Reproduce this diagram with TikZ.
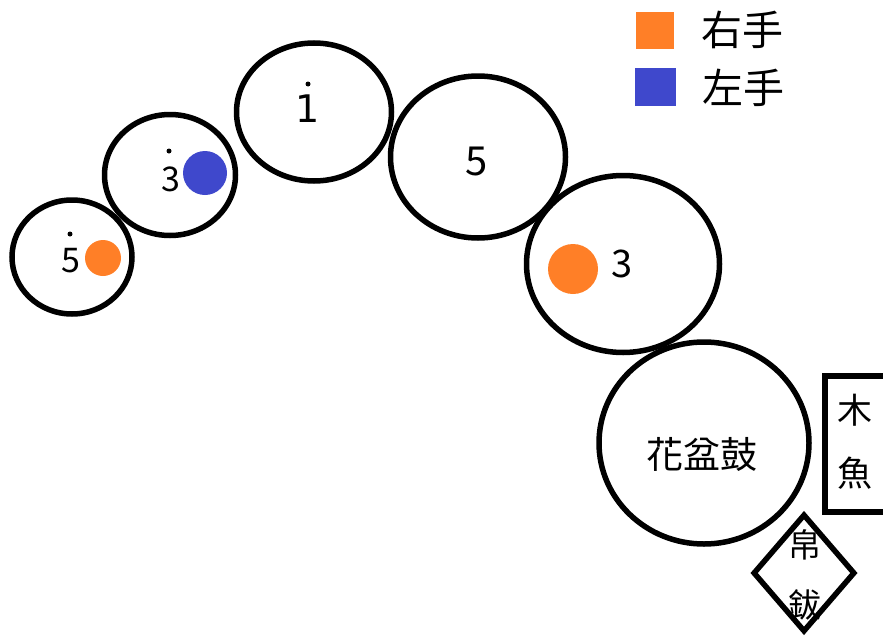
\documentclass[tikz,border=0pt]{standalone}
\usepackage{fontspec}
\setmainfont{Noto Sans CJK TC}
\newfontfamily\digitfont{DejaVu Sans}
\usetikzlibrary{shapes.geometric}
\definecolor{porange}{HTML}{FF7F27}
\definecolor{pblue}{HTML}{3F48CC}
\tikzset{
  drum/.style={draw=black, line width=5.5pt, ellipse, inner sep=0pt},
  hand/.style={circle, inner sep=0pt, draw=none},
  octdot/.style={circle, fill=black, inner sep=0pt, minimum size=5pt},
  lbl/.style={inner sep=0pt, text=black},
  sq/.style={inner sep=0pt, draw=none}
}
\newcommand{\fs}[1]{\fontsize{#1}{#1}\selectfont}
\begin{document}
\begin{tikzpicture}[x=1pt,y=-1pt]
\useasboundingbox (0,0) rectangle (883,637);
% drums
\node[drum, minimum width=120pt, minimum height=114pt] (c1) at (72,257) {};
\node[drum, minimum width=131pt, minimum height=121pt] (c2) at (170,175) {};
\node[drum, minimum width=155pt, minimum height=138pt] (c3) at (314,112) {};
\node[drum, minimum width=175pt, minimum height=162pt] (c4) at (478,157) {};
\node[drum, minimum width=193pt, minimum height=177pt] (c5) at (623,264) {};
\node[drum, minimum width=210pt, minimum height=202pt] (c6) at (704,443) {};
% hands
\node[hand, fill=porange, minimum size=36pt] (h1) at (103,258) {};
\node[hand, fill=pblue, minimum size=44pt] (h2) at (205,173) {};
\node[hand, fill=porange, minimum size=50pt] (h3) at (573,269) {};
% numbers
\node[lbl] (n1) at (71,261) {\fs{34}5};
\node[octdot] (d1) at (70,234) {};
\node[lbl] (n2) at (171,179) {\fs{34}3};
\node[octdot] (d2) at (169,151) {};
\node[lbl] (n3) at (308,109) {\digitfont\fs{38}1};
\node[octdot] (d3) at (308,84) {};
\node[lbl] (n4) at (477,161) {\fs{40}5};
\node[lbl] (n5) at (622,264) {\fs{38}3};
\node[lbl] (n6) at (702,454) {\fs{37}花盆鼓};
% wood block
\node[draw=black, line width=6pt, rectangle, inner sep=0pt, minimum width=65pt, minimum height=136pt] (box) at (857.5,444) {};
\node[lbl] (m1) at (855,410) {\fs{35}木};
\node[lbl] (m2) at (855,473) {\fs{35}魚};
% cymbal
\node[draw=black, line width=5.5pt, diamond, inner sep=0pt, minimum width=102pt, minimum height=118pt] (dia) at (804,573) {};
\node[lbl] (b1) at (805,545) {\fs{33}帛};
\node[lbl] (b2) at (805,605) {\fs{33}鈸};
% legend
\node[sq, fill=porange, minimum width=38pt, minimum height=37pt] (lo) at (655,30.5) {};
\node[sq, fill=pblue, minimum width=41pt, minimum height=38pt] (lb) at (655.5,87) {};
\node[lbl] (lt1) at (742,30) {\fs{41}右手};
\node[lbl] (lt2) at (743,88) {\fs{41}左手};
\end{tikzpicture}
\end{document}
